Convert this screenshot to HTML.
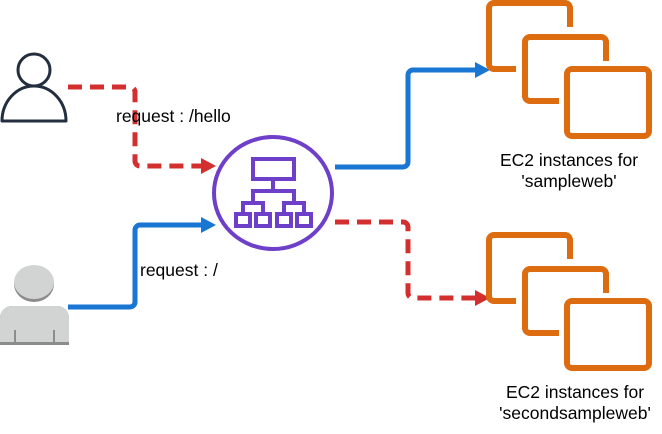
<!DOCTYPE html>
<html><head><style>
html,body{margin:0;padding:0;background:#fff;}
svg{display:block;}
text{font-family:"Liberation Sans",sans-serif;font-size:17.5px;fill:#000;}
</style></head><body>
<svg width="662" height="434" viewBox="0 0 662 434" xmlns="http://www.w3.org/2000/svg">
<defs>
<g id="ec2" fill="none" stroke="#dd6b10" stroke-width="6">
<path d="M570,27 V8 a5,5 0 0 0 -5,-5 H494 a5,5 0 0 0 -5,5 V64 a5,5 0 0 0 5,5 H516"/>
<path d="M606,61 V42 a5,5 0 0 0 -5,-5 H530 a5,5 0 0 0 -5,5 V96 a5,5 0 0 0 5,5 H559"/>
<rect x="567" y="69" width="82" height="67" rx="5"/>
</g>
</defs>
<!-- user 1 -->
<circle cx="34" cy="70" r="16" fill="none" stroke="#232f3e" stroke-width="3"/>
<path d="M2,121 A32,35 0 0 1 66,121 Z" fill="none" stroke="#232f3e" stroke-width="3" stroke-linejoin="round"/>
<!-- user 2 -->
<ellipse cx="34" cy="284" rx="20" ry="18" fill="#8c8c8c"/>
<ellipse cx="34" cy="282" rx="20" ry="17" fill="#d2d3d3"/>
<path d="M0,345 V318 a12,12 0 0 1 12,-12 H57 a12,12 0 0 1 12,12 V345 Z" fill="#8c8c8c"/>
<path d="M0,342 V318 a12,12 0 0 1 12,-12 H57 a12,12 0 0 1 12,12 V342 Z" fill="#d2d3d3"/>
<rect x="14" y="330" width="2" height="15" fill="#8c8c8c"/><rect x="53" y="330" width="2" height="15" fill="#8c8c8c"/>
<!-- connectors -->
<path d="M68,87 H130 a5,5 0 0 1 5,5 V161 a5,5 0 0 0 5,5 H203" fill="none" stroke="#d32f2f" stroke-width="5" stroke-dasharray="14,8"/>
<path d="M201,158 L216,166 L201,174 Z" fill="#d32f2f"/>
<path d="M68,307 H130 a5,5 0 0 0 5,-5 V230 a5,5 0 0 1 5,-5 H203" fill="none" stroke="#1976d2" stroke-width="5"/>
<path d="M201,217 L216,225 L201,233 Z" fill="#1976d2"/>
<path d="M335,167 H403 a5,5 0 0 0 5,-5 V75 a5,5 0 0 1 5,-5 H477" fill="none" stroke="#1976d2" stroke-width="5"/>
<path d="M475,62 L490,70 L475,78 Z" fill="#1976d2"/>
<path d="M335,222 H403 a5,5 0 0 1 5,5 V293 a5,5 0 0 0 5,5 H477" fill="none" stroke="#d32f2f" stroke-width="5" stroke-dasharray="14,8"/>
<path d="M475,290 L490,298 L475,306 Z" fill="#d32f2f"/>
<!-- load balancer -->
<ellipse cx="273" cy="193" rx="59" ry="56" fill="#fff" stroke="#6e3fc9" stroke-width="4"/>
<g fill="none" stroke="#6e3fc9" stroke-width="4">
<rect x="253" y="159" width="41" height="20"/>
<path d="M273,179 V191 M253,203 V191 H294 V203 M243,214 V203 H263 V214 M284,214 V203 H304 V214"/>
<rect x="236" y="214" width="14" height="12"/><rect x="256" y="214" width="14" height="12"/>
<rect x="277" y="214" width="14" height="12"/><rect x="297" y="214" width="14" height="12"/>
</g>
<!-- ec2 -->
<use href="#ec2"/>
<use href="#ec2" transform="translate(0,232)"/>
<!-- labels -->
<text x="116" y="122">request : /hello</text>
<text x="140" y="276">request : /</text>
<text x="569" y="166" text-anchor="middle">EC2 instances for</text>
<text x="569" y="187" text-anchor="middle">'sampleweb'</text>
<text x="575" y="398" text-anchor="middle">EC2 instances for</text>
<text x="575" y="419" text-anchor="middle">'secondsampleweb'</text>
</svg>
</body></html>
